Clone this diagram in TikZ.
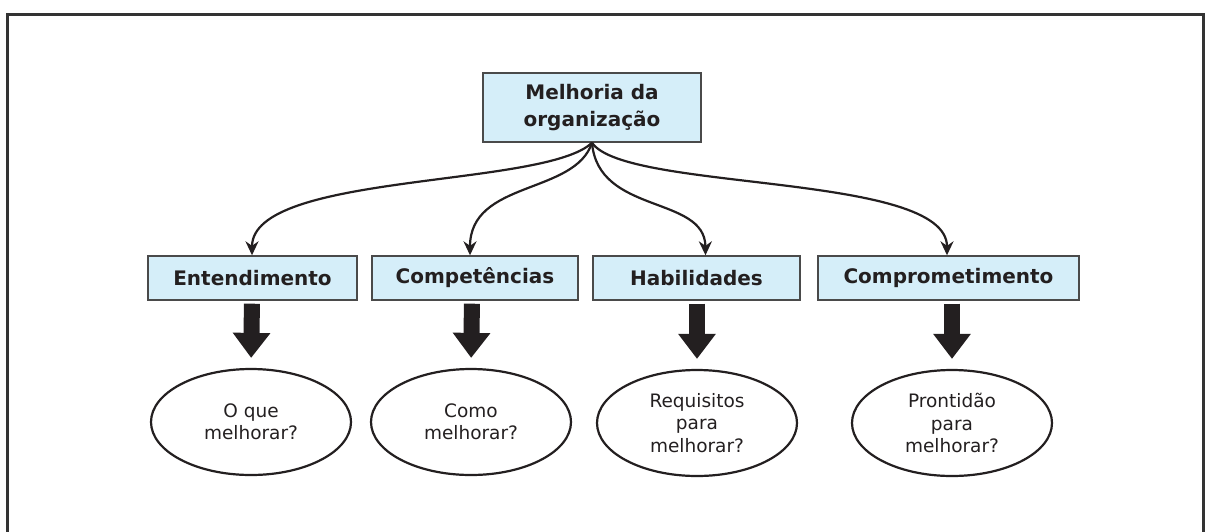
\documentclass[tikz,border=0pt]{standalone}
\usepackage{fontspec}
\setmainfont{DejaVu Sans}
\usetikzlibrary{arrows.meta,shapes.geometric}
\definecolor{boxfill}{HTML}{D5EEF9}
\definecolor{boxline}{HTML}{4A4A4A}
\definecolor{txt}{HTML}{231F20}
\definecolor{frame}{HTML}{333333}
\begin{document}
\begin{tikzpicture}[x=1pt,y=-1pt,
  topbox/.style={draw=boxline,line width=1.4pt,fill=boxfill,minimum width=218pt,minimum height=69pt,align=center,text=txt,font=\fontsize{20}{27}\selectfont\bfseries,inner sep=0pt},
  catbox/.style={draw=boxline,line width=1.4pt,fill=boxfill,minimum height=44pt,text=txt,font=\fontsize{20}{24}\selectfont\bfseries,inner sep=0pt},
  qell/.style={draw=txt,line width=2.2pt,ellipse,minimum width=200pt,minimum height=106pt,inner sep=0pt,align=center,text=txt,font=\fontsize{18.5}{22.5}\selectfont},
  curvearrow/.style={draw=txt,line width=2.2pt,-{Stealth[length=14pt,width=13pt]}},
  bigarrow/.style={draw=txt,line width=16pt,-{Triangle[length=25pt,width=36pt]},shorten <=3pt,shorten >=10pt}
]
\useasboundingbox (0,0) rectangle (1205,531);
\draw[frame,line width=3pt] (7,14) rectangle (1203,545);

\node[topbox] (top) at (592,107.5) {Melhoria da\\organização};

\node[catbox,minimum width=209pt] (b1) at (252.5,278) {Entendimento};
\node[catbox,minimum width=206pt] (b2) at (475,278) {Competências};
\node[catbox,minimum width=207pt] (b3) at (696.5,278) {Habilidades};
\node[catbox,minimum width=261pt] (b4) at (948.5,278) {Comprometimento};

\node[qell] (o1) at (251,422) {O que\\melhorar?};
\node[qell] (o2) at (471,422) {Como\\melhorar?};
\node[qell] (o3) at (697,423) {Requisitos\\para\\melhorar?};
\node[qell] (o4) at (952,423) {Prontidão\\para\\melhorar?};

\coordinate (s) at (top.south);
\draw[curvearrow] (s) .. controls (545,188) and (252,172) .. ([xshift=-0.5pt]b1.north);
\draw[curvearrow] (s) .. controls (575,195) and (470,180) .. ([xshift=-5pt]b2.north);
\draw[curvearrow] (s) .. controls (598,215) and (705,195) .. ([xshift=9pt]b3.north);
\draw[curvearrow] (s) .. controls (625,192) and (947,172) .. ([xshift=-1.5pt]b4.north);

\draw[bigarrow] ([xshift=-0.5pt]b1.south) -- (o1.north);
\draw[bigarrow] ([xshift=-3pt]b2.south) -- (o2.north);
\draw[bigarrow] ([xshift=0.5pt]b3.south) -- (o3.north);
\draw[bigarrow] ([xshift=3.5pt]b4.south) -- (o4.north);
\end{tikzpicture}
\end{document}
